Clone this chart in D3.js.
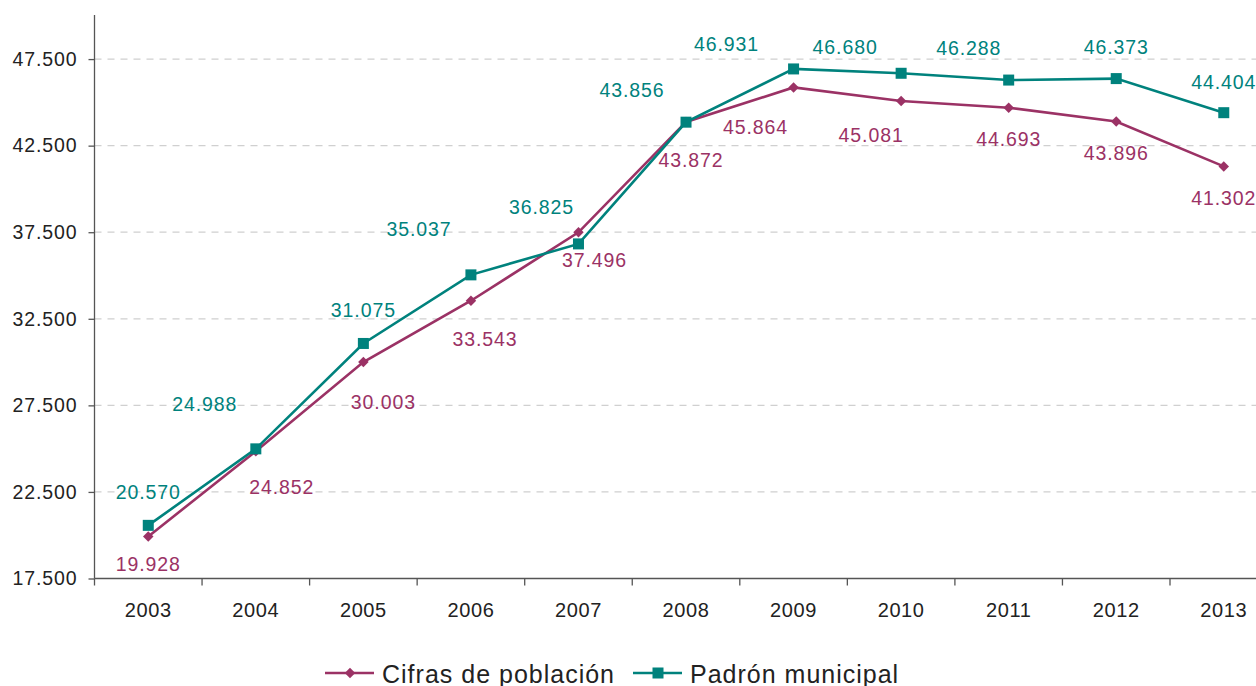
<!DOCTYPE html>
<html>
<head>
<meta charset="utf-8">
<script src="https://cdn.jsdelivr.net/npm/d3@7"></script>
<style>
  html, body { margin: 0; padding: 0; background: #fff; overflow: hidden; }
  svg { display: block; font-family: "Liberation Sans", Arial, sans-serif; }
</style>
</head>
<body>
<svg id="chart" width="1256" height="686"></svg>
<script>
// data
const years = ['2003', '2004', '2005', '2006', '2007', '2008', '2009', '2010', '2011', '2012', '2013'];
const cifras = [19928, 24852, 30003, 33543, 37496, 43872, 45864, 45081, 44693, 43896, 41302];
const padron = [20570, 24988, 31075, 35037, 36825, 43856, 46931, 46680, 46288, 46373, 44404];
const yTicks = [17500, 22500, 27500, 32500, 37500, 42500, 47500];

// label offsets (px) from each point
const cifrasDx = [0, 26, 20, 14, 16, 5, -38, -30, 0, 0, 0];
const cifrasDy = [28, 36, 40, 38, 28, 38, 40, 34, 31, 32, 32];
const padronDx = [0, -51, 0, -52, -37, -54, -67, -56, -40, 0, 0];
const padronDy = [-33, -45, -33, -46, -37, -32, -25, -26, -32, -32, -31];

const colCifras = '#9b3265';
const colPadron = '#00827d';

const svg = d3.select('#chart');

const left = 94.5, bottom = 578.5, step = 107.55;

const x = d3.scaleBand()
  .domain(years)
  .range([left, left + step * years.length])
  .padding(0);

const y = d3.scaleLinear()
  .domain([17500, 50000])
  .range([bottom, bottom - 86.57 * 6.5]);

const loc = d3.formatLocale({ decimal: ',', thousands: '.', grouping: [3], currency: ['', ''] });
const fmt = loc.format(',.0f');

const cx = (i) => x(years[i]) + x.bandwidth() / 2;

// Gridlines
svg.append('g')
  .selectAll('line')
  .data(yTicks.slice(1))
  .enter()
  .append('line')
  .attr('x1', left)
  .attr('x2', 1256)
  .attr('y1', (d) => y(d))
  .attr('y2', (d) => y(d))
  .attr('stroke', '#d0d0d0')
  .attr('stroke-width', 1.2)
  .attr('stroke-dasharray', '7,6');

// Y axis
const yAxis = svg.append('g')
  .attr('transform', `translate(${left},0)`)
  .call(d3.axisLeft(y).tickValues(yTicks).tickFormat(fmt).tickSize(6).tickPadding(11));
yAxis.select('.domain').attr('d', `M0,${bottom}V15`).attr('stroke', '#555').attr('stroke-width', 1.3);
yAxis.selectAll('.tick line').attr('stroke', '#555').attr('stroke-width', 1.3);
yAxis.selectAll('.tick text')
  .attr('fill', '#222')
  .style('font-size', '19.5px')
  .style('letter-spacing', '0.9px')
  .style('font-family', '"Liberation Sans", Arial, sans-serif');

// X axis
const xAxis = svg.append('g')
  .attr('transform', `translate(0,${bottom})`)
  .call(d3.axisBottom(x).tickSize(0).tickPadding(24));
xAxis.select('.domain').attr('d', `M${left},0H1256`).attr('stroke', '#555').attr('stroke-width', 1.3);
xAxis.selectAll('.tick text')
  .attr('fill', '#222')
  .style('font-size', '20px')
  .style('letter-spacing', '0.6px')
  .style('font-family', '"Liberation Sans", Arial, sans-serif');

xAxis.selectAll('.sep')
  .data(years)
  .enter()
  .append('line')
  .attr('class', 'sep')
  .attr('x1', (d) => x(d))
  .attr('x2', (d) => x(d))
  .attr('y1', 0)
  .attr('y2', 7)
  .attr('stroke', '#555')
  .attr('stroke-width', 1.3);

// Lines
const line = d3.line()
  .x((d, i) => cx(i))
  .y((d) => y(d));

const series = [
  { key: 'Cifras de población', values: cifras, color: colCifras, dx: cifrasDx, dy: cifrasDy, marker: 'diamond' },
  { key: 'Padrón municipal', values: padron, color: colPadron, dx: padronDx, dy: padronDy, marker: 'square' },
];

const diamond = d3.symbol().type(d3.symbolDiamond2).size(70);

function drawMarker(sel, s) {
  if (s.marker === 'square') {
    sel.append('rect')
      .attr('x', -5.5).attr('y', -5.5)
      .attr('width', 11).attr('height', 11)
      .attr('fill', s.color);
  } else {
    sel.append('path')
      .attr('d', diamond())
      .attr('fill', s.color);
  }
}

series.forEach((s) => {
  svg.append('path')
    .attr('d', line(s.values))
    .attr('fill', 'none')
    .attr('stroke', s.color)
    .attr('stroke-width', 2.6);
});

series.forEach((s) => {
  s.values.forEach((v, i) => {
    const g = svg.append('g').attr('transform', `translate(${cx(i)},${y(v)})`);
    drawMarker(g, s);
  });
});

// Value labels
series.forEach((s) => {
  svg.append('g')
    .selectAll('text')
    .data(s.values)
    .enter()
    .append('text')
    .attr('x', (d, i) => cx(i) + s.dx[i])
    .attr('y', (d, i) => y(d) + s.dy[i])
    .attr('text-anchor', 'middle')
    .attr('dominant-baseline', 'central')
    .attr('fill', s.color)
    .style('font-size', '19.5px')
    .style('letter-spacing', '0.9px')
    .text((d) => fmt(d));
});

// Legend
const legendPos = [325, 633];
series.forEach((s, k) => {
  const lg = svg.append('g').attr('transform', `translate(${legendPos[k]},673)`);
  lg.append('line')
    .attr('x1', 0).attr('x2', 49)
    .attr('y1', 0).attr('y2', 0)
    .attr('stroke', s.color)
    .attr('stroke-width', 2.6);
  drawMarker(lg.append('g').attr('transform', 'translate(25,0)'), s);
  lg.append('text')
    .attr('x', 57)
    .attr('y', 10)
    .attr('fill', '#222')
    .style('font-size', '25px')
    .style('letter-spacing', '1px')
    .text(s.key);
});
</script>
</body>
</html>
